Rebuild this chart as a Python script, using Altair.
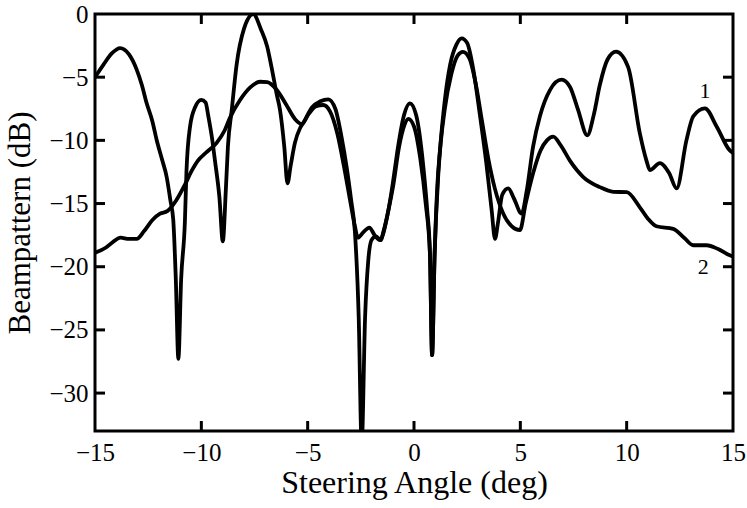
import altair as alt
import pandas as pd

# Curve 1 (sharp nulls, label "1")
c1_x = [-15.0, -14.6, -14.2, -13.82, -13.4, -13.04, -12.8, -12.57, -12.3, -12.1, -11.85, -11.63,
        -11.45, -11.32, -11.2, -11.08, -10.95, -10.77, -10.7, -10.53, -10.3, -10.0, -9.8, -9.67,
        -9.5, -9.36, -9.15, -8.99, -8.85, -8.75, -8.57, -8.34, -8.0, -7.56, -7.2, -6.9, -6.7,
        -6.45, -6.3, -6.1, -5.95, -5.8, -5.6, -5.35, -5.2, -4.8, -4.4, -4.03, -3.7, -3.4, -3.17,
        -2.95, -2.78, -2.6, -2.46, -2.3, -2.15, -2.0, -1.8, -1.55, -1.45, -1.2, -0.98, -0.75,
        -0.5, -0.19, 0.1, 0.44, 0.62, 0.75, 0.85, 0.97, 1.1, 1.22, 1.45, 1.7, 2.0, 2.24, 2.5,
        2.8, 3.1, 3.4, 3.65, 3.81, 3.95, 4.15, 4.43, 4.7, 5.06, 5.3, 5.6, 5.92, 6.4, 6.94, 7.33,
        7.7, 8.15, 8.45, 8.74, 9.1, 9.5, 10.07, 10.62, 10.93, 11.09, 11.56, 12.0, 12.35, 12.81,
        13.13, 13.68, 14.23, 14.85, 15.0]
c1_y = [-5.0, -4.0, -3.1, -2.7, -3.2, -4.4, -5.6, -7.07, -8.5, -9.97, -11.5, -12.9,
        -14.8, -16.3, -21.0, -27.3, -21.0, -16.3, -12.5, -8.9, -7.4, -6.8, -7.0, -8.1,
        -9.8, -11.6, -14.5, -18.0, -14.0, -10.5, -7.6, -4.0, -1.2, 0.0, -1.2, -2.6, -4.2,
        -6.4, -7.6, -10.5, -13.4, -12.0, -10.2, -9.0, -8.6, -7.4, -6.9, -6.75, -7.5, -9.8, -12.1,
        -14.8, -17.2, -24.0, -34.0, -24.0, -19.5, -17.9, -17.6, -17.9, -17.3, -15.5, -13.2, -10.5,
        -8.2, -7.07, -8.0, -12.1, -15.5, -18.9, -27.0, -19.0, -13.5, -10.8, -6.8, -4.0, -2.4, -1.93, -2.3,
        -4.5, -8.0, -11.8, -15.5, -17.8, -16.5, -14.3, -13.8, -14.6, -15.8, -14.0, -10.5, -8.1, -6.0, -5.2, -5.75,
        -7.5, -9.6, -8.0, -5.6, -3.6, -2.98, -4.2, -9.45, -11.6, -12.35, -11.8, -12.6, -13.8, -10.0,
        -8.1, -7.47, -8.9, -10.8, -11.0]

# Curve 2 (smooth, label "2")
c2_x = [-15.0, -14.5, -14.2, -13.8, -13.4, -13.04, -12.7, -12.3, -11.94, -11.6, -11.2, -10.77,
        -10.45, -10.16, -9.8, -9.28, -8.9, -8.65, -8.18, -7.7, -7.24, -6.9, -6.46, -6.0, -5.6,
        -5.28, -4.95, -4.6, -4.27, -3.95, -3.6, -3.3, -3.0, -2.78, -2.64, -2.4, -2.1, -1.85, -1.6,
        -1.45, -1.2, -0.98, -0.7, -0.45, -0.27, 0.0, 0.3, 0.55, 0.75, 0.85, 0.97, 1.15, 1.45, 1.75,
        2.05, 2.3, 2.6, 2.9, 3.2, 3.5, 3.8, 4.2, 4.6, 4.98, 5.25, 5.6, 5.95, 6.25, 6.55, 6.9, 7.33,
        7.96, 8.74, 9.37, 10.0, 10.62, 11.0, 11.4, 12.19, 12.7, 13.13, 13.76, 14.3, 14.85, 15.0]
c2_y = [-18.9, -18.5, -18.1, -17.7, -17.8, -17.8, -17.2, -16.3, -15.8, -15.6, -14.8, -13.5,
        -12.4, -11.6, -11.0, -10.2, -9.2, -8.2, -6.8, -5.8, -5.36, -5.4, -6.0, -7.2, -8.3,
        -8.7, -7.9, -7.3, -7.2, -7.7, -9.5, -12.0, -14.8, -16.8, -17.7, -17.3, -16.9, -17.5, -17.9,
        -17.4, -15.5, -13.6, -10.5, -8.8, -8.3, -8.9, -11.5, -15.0, -19.0, -27.0, -19.0, -12.5, -7.5, -4.8,
        -3.3, -3.0, -3.5, -5.5, -8.5, -11.5, -13.8, -15.8, -16.8, -17.1, -15.0, -12.6, -10.8, -10.0, -9.7, -10.4, -11.6,
        -12.9, -13.7, -14.07, -14.1, -15.3, -16.2, -16.8, -17.0, -17.7, -18.3, -18.3, -18.6, -19.1, -19.2]

label_x = [13.68, 13.6]
label_y = [-6.1, -20.0]
label_text = ["1", "2"]

x_ticks = [-15, -10, -5, 0, 5, 10, 15]
y_ticks = [0, -5, -10, -15, -20, -25, -30]
x_inner_ticks = [-10, -5, 0, 5, 10]
y_inner_ticks = [-5, -10, -15, -20, -25, -30]

W, H = 638, 417
TICK = 10

df = pd.concat([
    pd.DataFrame({"x": c1_x, "y": c1_y, "series": "1", "order": range(len(c1_x))}),
    pd.DataFrame({"x": c2_x, "y": c2_y, "series": "2", "order": range(len(c2_x))}),
])
lab = pd.DataFrame({"x": label_x, "y": label_y, "t": label_text})
xt = pd.DataFrame({"x": x_inner_ticks})
yt = pd.DataFrame({"y": y_inner_ticks})

FONT = "Liberation Serif"
xs = alt.Scale(domain=[-15, 15], nice=False, zero=False)
ys = alt.Scale(domain=[-33, 0], nice=False, zero=False)

lines = alt.Chart(df).mark_line(
    color="black", strokeWidth=3.8, interpolate="monotone", clip=True
).encode(
    x=alt.X("x:Q", scale=xs, axis=alt.Axis(
        values=x_ticks, tickSize=0, domain=False, grid=False, labelFont=FONT,
        labelFontSize=25, labelColor="black", labelPadding=9, labelFlush=False,
        title="Steering Angle (deg)", titleFont=FONT, titleFontSize=32,
        titleFontWeight="normal", titleColor="black", titlePadding=2)),
    y=alt.Y("y:Q", scale=ys, axis=alt.Axis(
        values=y_ticks, tickSize=0, domain=False, grid=False, labelFont=FONT,
        labelFontSize=25, labelColor="black", labelPadding=7, labelFlush=False,
        title="Beampattern (dB)", titleFont=FONT, titleFontSize=31,
        titleFontWeight="normal", titleColor="black", titlePadding=12)),
    detail="series:N",
    order="order:Q",
)

tick_style = dict(color="black", strokeWidth=3)
x_bot = alt.Chart(xt).mark_rule(**tick_style).encode(
    x=alt.X("x:Q", scale=xs), y=alt.value(H - TICK), y2=alt.value(H))
x_top = alt.Chart(xt).mark_rule(**tick_style).encode(
    x=alt.X("x:Q", scale=xs), y=alt.value(0), y2=alt.value(TICK))
y_left = alt.Chart(yt).mark_rule(**tick_style).encode(
    y=alt.Y("y:Q", scale=ys), x=alt.value(0), x2=alt.value(TICK))
y_right = alt.Chart(yt).mark_rule(**tick_style).encode(
    y=alt.Y("y:Q", scale=ys), x=alt.value(W - TICK), x2=alt.value(W))

labels = alt.Chart(lab).mark_text(
    font=FONT, fontSize=22, color="black", align="center", baseline="middle"
).encode(
    x=alt.X("x:Q", scale=xs),
    y=alt.Y("y:Q", scale=ys),
    text="t:N",
)

chart = alt.layer(lines, x_bot, x_top, y_left, y_right, labels).properties(
    width=W, height=H,
    autosize=alt.AutoSizeParams(type="none"),
    padding={"left": 95, "top": 14, "right": 14, "bottom": 77},
    background="white",
).configure_view(stroke="black", strokeWidth=3)

chart.save("out.html", embed_options={"renderer": "svg", "actions": False})
